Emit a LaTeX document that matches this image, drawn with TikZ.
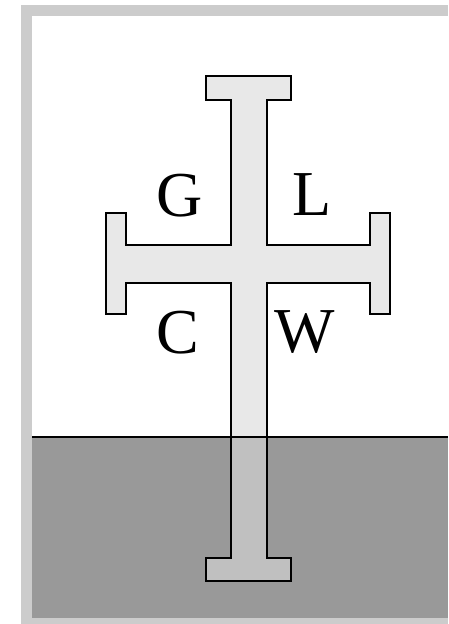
\documentclass[tikz,border=0pt]{standalone}
\usepackage{fontspec}
\setmainfont{Liberation Serif}
\definecolor{framegray}{HTML}{CCCCCC}
\definecolor{groundgray}{HTML}{999999}
\definecolor{crosslight}{HTML}{E8E8E8}
\definecolor{crossdark}{HTML}{C0C0C0}
\begin{document}
\begin{tikzpicture}[x=1pt,y=-1pt,
  outline/.style={draw=black,line width=1.8pt,line join=miter},
  letter/.style={anchor=base,inner sep=0pt,font=\fontsize{64}{64}\selectfont}]
\useasboundingbox (0,0) rectangle (448,624);
% frame
\fill[framegray] (21,5) rectangle (448,624);
\fill[white] (32,16) rectangle (448,618);
% ground
\fill[groundgray] (32,437) rectangle (448,618);
% cross
\def\crosspath{(206,76) -- (291,76) -- (291,100) -- (267,100) -- (267,245) -- (370,245) -- (370,213) -- (390,213) -- (390,314) -- (370,314) -- (370,283) -- (267,283) -- (267,558) -- (291,558) -- (291,581) -- (206,581) -- (206,558) -- (231,558) -- (231,283) -- (126,283) -- (126,314) -- (106,314) -- (106,213) -- (126,213) -- (126,245) -- (231,245) -- (231,100) -- (206,100) -- cycle}
\fill[crosslight] \crosspath;
\begin{scope}
  \clip (32,437) rectangle (448,618);
  \fill[crossdark] \crosspath;
\end{scope}
\draw[outline] \crosspath;
% ground line
\coordinate (gl) at (32,437);
\coordinate (gr) at (448,437);
\draw[line width=1.8pt] (gl) -- (gr);
% letters
\node[letter] (G) at (180,216) {G};
\node[letter] (L) at (312,215) {L};
\node[letter] (C) at (177.5,353) {C};
\node[letter] (W) at (305,352) {W};
\end{tikzpicture}
\end{document}
